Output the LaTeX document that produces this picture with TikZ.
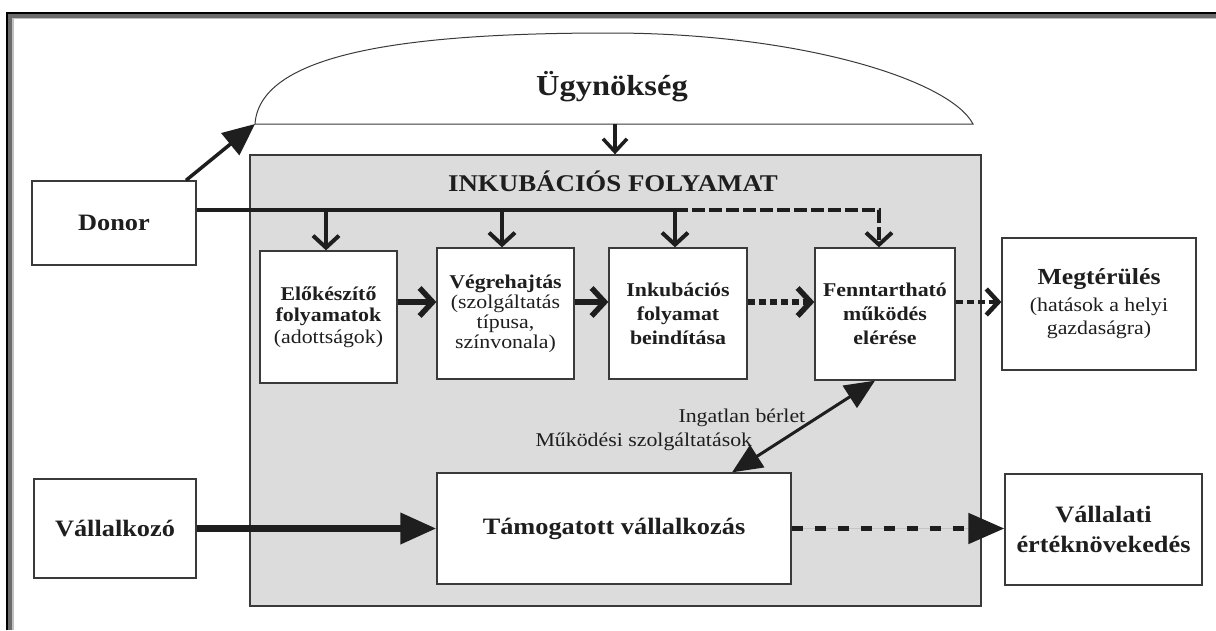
\documentclass[tikz,border=0pt]{standalone}
\usepackage{fontspec}
\setmainfont{Liberation Serif}[FakeStretch=1.12]
\usetikzlibrary{arrows.meta,calc}
\definecolor{boxgray}{HTML}{DCDCDC}
\definecolor{edge}{HTML}{3A3A3A}
\definecolor{ink}{HTML}{1E1E1E}
\definecolor{framedark}{HTML}{6B6B6B}
\definecolor{framelight}{HTML}{C0C0C0}
\begin{document}
\begin{tikzpicture}[x=1pt,y=-1pt,
  box/.style={draw=edge, line width=1.3pt, fill=white, inner sep=0pt, align=center, text=ink},
  smalltext/.style={font=\fontsize{19.5}{21.5}\selectfont},
  bigbold/.style={font=\fontsize{23.5}{30}\selectfont\bfseries},
  lbl/.style={font=\fontsize{19.5}{22}\selectfont, text=ink},
  chev/.style={-{Straight Barb[length=12pt,width=26pt]}, line width=4pt, draw=ink},
  chevbig/.style={-{Straight Barb[length=13pt,width=28pt]}, line width=5.5pt, draw=ink},
  bigtri/.style={-{Triangle[length=36pt,width=30pt]}, draw=ink, fill=ink},
]
\useasboundingbox (0,0) rectangle (1216,630);
% window frame
\fill[black] (6,12) rectangle (1216,14);
\fill[black] (6,12) rectangle (8,630);
\fill[framedark] (8,14) rectangle (1216,17.7);
\fill[framedark] (8,14) rectangle (12,630);
\fill[framelight] (12,17.7) rectangle (1216,19.3);
\fill[framelight] (12,17.7) rectangle (14,630);

% incubation area
\node[draw=edge, line width=1.3pt, fill=boxgray, minimum width=731pt, minimum height=451pt, inner sep=0pt] (inc) at (615.5,380.5) {};
\node[anchor=base, font=\fontsize{24}{28}\selectfont\bfseries, text=ink] (inctitle) at (613,191) {INKUBÁCIÓS FOLYAMAT};

% agency
\coordinate (agL) at (255,124);
\coordinate (agB) at (615,124);
\draw[line width=1pt, edge] (agL) .. controls (260,50) and (420,33) .. (610,33)
  .. controls (800,33) and (950,80) .. (973,124) -- cycle;
\node[anchor=base, font=\fontsize{29}{33}\selectfont\bfseries, text=ink] (ag) at (612,95) {Ügynökség};

% boxes
\node[box, bigbold, minimum width=164pt, minimum height=84pt] (donor) at (114,223) {Donor};
\node[box, bigbold, minimum width=162pt, minimum height=99pt] (vallalkozo) at (115,528.5) {Vállalkozó};
\node[box, smalltext, minimum width=137pt, minimum height=132pt] (box1) at (328.5,317)
  {\textbf{Előkészítő}\\\textbf{folyamatok}\\(adottságok)};
\node[box, font=\fontsize{19.5}{20}\selectfont, minimum width=137pt, minimum height=131pt] (box2) at (505.5,313.5)
  {\textbf{Végrehajtás}\\(szolgáltatás\\típusa,\\színvonala)};
\node[box, font=\fontsize{19.5}{24}\selectfont\bfseries, minimum width=138pt, minimum height=131pt] (box3) at (678,313.5)
  {Inkubációs\\folyamat\\beindítása};
\node[box, font=\fontsize{19.5}{24}\selectfont\bfseries, minimum width=140pt, minimum height=132pt] (box4) at (885,314)
  {Fenntartható\\működés\\elérése};
\node[box, font=\fontsize{19.5}{23}\selectfont, minimum width=194pt, minimum height=132pt] (megt) at (1099,304)
  {{\fontsize{23}{27}\selectfont\bfseries Megtérülés}\\[4pt](hatások a helyi\\gazdaságra)};
\node[box, bigbold, minimum width=354pt, minimum height=111pt] (tamog) at (614,528.5) {Támogatott vállalkozás};
\node[box, bigbold, minimum width=197pt, minimum height=111pt] (vallalati) at (1103.5,529.5) {Vállalati\\értéknövekedés};

% labels
\node[lbl, anchor=base west] (ingatlan) at (675,422) {Ingatlan bérlet};
\node[lbl, anchor=base west] (mukodesi) at (532,446) {Működési szolgáltatások};

% donor connections
\coordinate (d1) at (326,210);
\coordinate (d2) at (502,210);
\coordinate (d3) at (675,210);
\coordinate (d4) at (879,210);
\draw[line width=3.5pt, ink, -{Triangle[length=32pt,width=28pt]}] ([xshift=72pt]donor.north) -- (agL);
\draw[line width=4pt, ink] (donor.east |- d1) -- (d3);
\draw[line width=4pt, ink, dash pattern=on 13pt off 4pt, -{Straight Barb[length=12pt,width=26pt]}] (d3) -- (d4) -- (d4 |- box4.north);
\draw[chev] (d1) -- (d1 |- box1.north);
\draw[chev] (d2) -- (d2 |- box2.north);
\draw[chev] (d3) -- (d3 |- box3.north);
\draw[-{Straight Barb[length=13pt,width=24pt]}, line width=3.5pt, ink] (agB) -- (agB |- inc.north);

% process arrows
\coordinate (ay) at (0,302);
\draw[chevbig] (box1.east |- ay) -- (box2.west |- ay);
\draw[chevbig] (box2.east |- ay) -- (box3.west |- ay);
\draw[chevbig, dash pattern=on 7pt off 4pt] (box3.east |- ay) -- (box4.west |- ay);
\draw[chev, line width=4.5pt, dash pattern=on 7pt off 4pt] (box4.east |- ay) -- (megt.west |- ay);

% enterprise arrows
\draw[bigtri, line width=7pt] (vallalkozo.east) -- (tamog.west);
\draw[bigtri, line width=5pt, dash pattern=on 11pt off 12pt] (tamog.east) -- (tamog.east -| vallalati.west);
\draw[line width=3pt, ink, {Triangle[length=30pt,width=26pt]}-{Triangle[length=30pt,width=26pt]}]
  ([xshift=118pt]tamog.north) -- ([xshift=-10pt]box4.south);
\end{tikzpicture}
\end{document}
